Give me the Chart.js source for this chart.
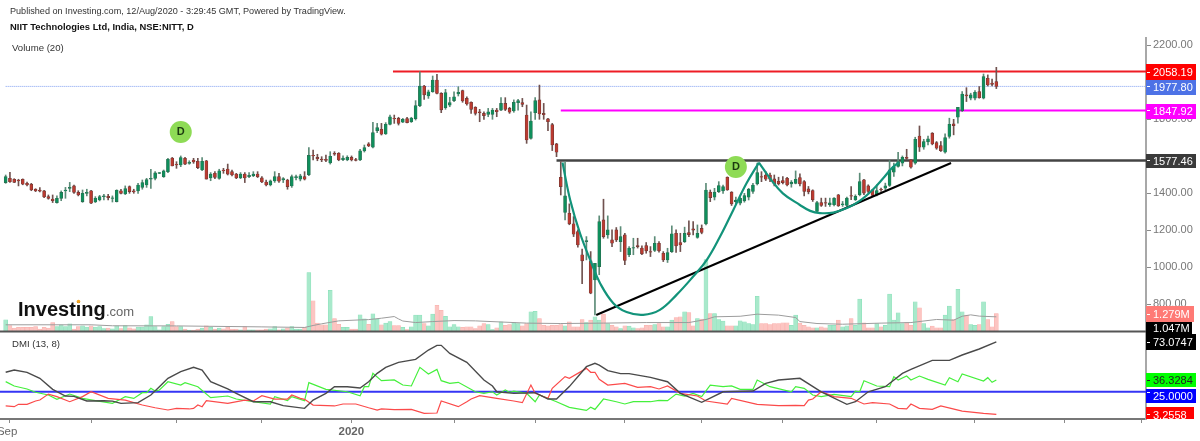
<!DOCTYPE html>
<html>
<head>
<meta charset="utf-8">
<title>NIIT Technologies daily chart</title>
<style>
  html, body { margin: 0; padding: 0; background: #fff; }
  canvas { display: block; }
</style>
<script src="https://cdn.jsdelivr.net/npm/chart.js@4/dist/chart.umd.min.js"></script>
</head>
<body>
<canvas id="chart" width="1200" height="441"></canvas>
<script>
// Daily bars, oldest first: [open, high, low, close]
const ohlc = [
[1458,1499,1454,1490],[1481,1513,1459,1463],[1476,1479,1458,1459],[1472,1476,1440,1467],[1476,1478,1446,1449],
[1454,1461,1440,1445],[1449,1454,1414,1418],[1422,1425,1409,1413],[1418,1431,1407,1411],[1413,1416,1377,1380],
[1382,1391,1368,1373],[1369,1391,1350,1360],[1350,1386,1346,1373],[1373,1413,1360,1405],[1413,1432,1373,1418],
[1427,1459,1409,1432],[1440,1445,1400,1405],[1405,1414,1386,1391],[1355,1418,1351,1400],[1400,1422,1386,1405],
[1414,1416,1344,1346],[1353,1382,1350,1373],[1364,1389,1359,1382],[1382,1395,1364,1386],[1384,1395,1364,1377],
[1373,1386,1353,1375],[1355,1419,1353,1416],[1414,1422,1396,1400],[1396,1440,1393,1425],[1436,1440,1400,1409],
[1414,1422,1400,1407],[1413,1454,1400,1445],[1432,1472,1422,1458],[1445,1481,1432,1474],[1476,1530,1427,1481],
[1481,1517,1472,1510],[1508,1513,1506,1512],[1490,1526,1486,1522],[1517,1589,1512,1584],[1591,1594,1548,1548],
[1557,1571,1535,1553],[1553,1602,1544,1593],[1589,1594,1555,1558],[1562,1576,1557,1567],[1580,1589,1562,1569],
[1573,1589,1533,1539],[1526,1593,1522,1573],[1576,1578,1477,1477],[1483,1512,1468,1504],[1508,1517,1479,1486],
[1481,1530,1476,1522],[1526,1535,1508,1522],[1531,1558,1499,1504],[1517,1526,1494,1499],[1504,1508,1479,1483],
[1483,1512,1479,1504],[1504,1512,1458,1483],[1490,1512,1485,1497],[1495,1517,1490,1504],[1504,1517,1485,1490],
[1483,1490,1458,1461],[1461,1472,1440,1445],[1445,1472,1440,1467],[1467,1517,1459,1490],[1490,1508,1459,1465],
[1472,1485,1458,1479],[1472,1476,1422,1436],[1440,1499,1432,1490],[1485,1499,1472,1490],[1476,1503,1467,1494],
[1490,1517,1472,1476],[1501,1647,1495,1605],[1605,1634,1580,1602],[1594,1611,1576,1587],[1585,1598,1571,1580],
[1584,1607,1571,1578],[1564,1625,1558,1600],[1616,1625,1605,1611],[1616,1620,1576,1580],[1582,1602,1576,1591],
[1580,1603,1576,1594],[1594,1602,1575,1580],[1582,1589,1575,1578],[1580,1638,1576,1630],[1629,1661,1623,1647],
[1667,1674,1652,1656],[1649,1784,1645,1728],[1739,1778,1728,1755],[1746,1778,1715,1719],[1721,1782,1718,1773],
[1773,1823,1769,1814],[1805,1823,1778,1802],[1805,1811,1769,1778],[1784,1805,1782,1800],[1804,1811,1780,1782],
[1787,1811,1783,1807],[1804,1901,1796,1874],[1874,2057,1868,1980],[1980,1984,1908,1932],[1926,1958,1913,1949],
[1949,2034,1946,2012],[2012,2043,1937,1940],[1940,1944,1836,1851],[1863,1962,1854,1944],[1877,1919,1868,1890],
[1901,1949,1895,1922],[1937,1976,1926,1946],[1955,1958,1892,1899],[1913,1922,1877,1883],[1892,1895,1832,1854],
[1865,1868,1823,1832],[1840,1854,1787,1836],[1832,1841,1800,1820],[1827,1859,1814,1841],[1827,1859,1800,1850],
[1850,1859,1814,1841],[1850,1917,1847,1886],[1886,1917,1847,1854],[1859,1865,1832,1838],[1845,1905,1838,1892],
[1890,1908,1850,1901],[1890,1913,1868,1881],[1823,1877,1670,1688],[1697,1841,1692,1791],[1836,1917,1800,1901],
[1905,1985,1800,1829],[1832,1886,1800,1825],[1802,1805,1739,1787],[1771,1778,1631,1661],[1667,1670,1598,1622],
[1487,1571,1391,1436],[1296,1571,1256,1386],[1292,1343,1230,1235],[1235,1274,1166,1179],[1193,1202,1109,1121],
[1068,1098,911,1035],[1139,1166,1040,1145],[1035,1085,857,860],[932,1022,743,1022],[1004,1278,960,1247],
[1256,1368,1157,1166],[1175,1278,1157,1202],[1148,1202,1112,1130],[1202,1215,1139,1148],[1139,1220,1085,1166],
[1175,1184,1014,1037],[1068,1112,1058,1104],[1104,1157,1068,1107],[1118,1157,1104,1112],[1104,1116,1068,1073],
[1118,1134,1076,1089],[1085,1112,1058,1082],[1091,1166,1085,1130],[1130,1139,1082,1089],[1076,1085,1031,1040],
[1040,1103,1026,1080],[1085,1224,1080,1181],[1184,1202,1080,1116],[1134,1184,1085,1121],[1139,1217,1134,1184],
[1188,1251,1166,1177],[1208,1247,1175,1201],[1161,1229,1157,1184],[1210,1229,1181,1188],[1235,1454,1229,1418],
[1406,1418,1355,1377],[1379,1427,1364,1406],[1409,1463,1404,1442],[1413,1445,1400,1436],[1487,1489,1416,1418],
[1406,1409,1334,1343],[1355,1379,1343,1364],[1346,1382,1337,1373],[1359,1400,1352,1388],[1379,1427,1364,1422],
[1410,1454,1400,1445],[1451,1563,1445,1512],[1491,1517,1463,1487],[1499,1517,1469,1476],[1499,1509,1463,1476],
[1478,1499,1440,1451],[1465,1487,1445,1451],[1469,1490,1451,1458],[1481,1487,1440,1445],[1451,1469,1433,1460],
[1454,1521,1451,1476],[1485,1505,1440,1451],[1464,1469,1386,1410],[1424,1437,1397,1408],[1415,1419,1356,1365],
[1302,1356,1296,1350],[1350,1374,1329,1334],[1350,1374,1329,1347],[1338,1374,1329,1348],[1338,1377,1332,1374],
[1392,1394,1329,1332],[1338,1356,1329,1343],[1334,1379,1329,1374],[1388,1437,1365,1384],[1365,1392,1361,1383],
[1392,1509,1386,1464],[1473,1476,1392,1401],[1440,1446,1401,1410],[1419,1422,1383,1388],[1392,1446,1386,1415],
[1422,1428,1410,1419],[1428,1455,1419,1440],[1442,1577,1437,1527],[1514,1563,1491,1545],[1545,1622,1541,1572],
[1563,1602,1548,1595],[1595,1638,1581,1588],[1581,1584,1536,1541],[1563,1703,1557,1692],[1710,1764,1626,1649],
[1649,1692,1638,1680],[1678,1710,1662,1694],[1725,1728,1662,1667],[1674,1680,1638,1644],[1658,1680,1626,1631],
[1622,1721,1617,1701],[1707,1806,1698,1773],[1775,1800,1716,1766],[1811,1865,1779,1865],[1847,1950,1842,1937],
[1932,1971,1896,1926],[1914,1941,1905,1932],[1914,1955,1905,1946],[1950,1977,1914,1917],[1914,2045,1910,2031],
[2022,2040,1980,1986],[1996,2018,1980,1989],[2004,2081,1966,1977.8]
];

// Traded volume per bar, in millions
const volume = [
.83,.43,.24,.29,.29,.29,.29,.36,.17,.29,
.24,.64,.36,.48,.36,.55,.17,.36,.40,.31,
.40,.31,.36,.21,.24,.19,.40,.21,.43,.26,
.19,.31,.31,.48,1.07,.36,.12,.36,.52,.71,
.36,.36,.17,.10,.10,.17,.24,.40,.29,.17,
.24,.19,.31,.17,.17,.12,.36,.12,.12,.12,
.12,.17,.19,.36,.12,.19,.24,.36,.17,.17,
.29,4.21,2.19,.60,.48,.48,2.95,.93,.52,.29,
.29,.17,.17,1.19,.90,.52,1.26,.88,.48,.60,
.71,.43,.43,.29,.14,.33,1.17,1.17,.57,.40,
1.24,1.88,1.52,1.09,.33,.50,.33,.29,.33,.33,
.21,.40,.57,.50,.14,.26,.69,.45,.50,.64,
.57,.40,.57,1.40,1.45,.93,.45,.40,.45,.45,
.50,.40,.69,.33,.33,.86,.64,.81,1.05,.81,
1.24,.57,.45,.33,.21,.40,.38,.26,.21,.26,
.45,.45,.50,.57,.33,.33,.81,1.00,1.05,1.40,
1.36,.40,.93,.88,5.14,1.29,1.29,.86,.74,.40,
.40,.40,.76,.69,.57,.50,2.52,.57,.57,.50,
.57,.57,.62,.62,.45,1.17,.60,.45,.33,.26,
.26,.33,.26,.45,.45,.81,.33,.40,.93,.45,
2.31,.62,.26,.26,.57,.33,.45,2.67,.81,1.33,
.57,.64,.45,2.12,1.69,.57,.26,.38,.26,.26,
1.17,1.81,.86,3.02,1.40,1.17,.50,.45,.50,2.12,
.86,.33,1.279
];

// Volume (20) average: [bar, millions]
const volumeAverage = [
[0,.48],[20,.48],[25,.41],[40,.40],[60,.33],[70,.29],[72,.43],[74,.55],[78,.76],[83,.83],[85,.85],[88,.95],[91,1.07],[92,.90],
[93,.75],[96,.64],[100,.71],[105,.78],[110,.76],[122,.60],[130,.57],[140,.60],[150,.64],[160,.64],[164,.86],[166,1.05],[172,1.09],[176,1.24],[181,1.17],[185,1.00],
[186,.71],[190,.57],[196,.52],[205,.60],[212,.64],[218,.86],[222,.81],[224,1.09],[226,1.19],[228,1.10],[232,1.047]
];

// DMI (13, 8) lines: [bar, value]
const adx = [
[0,43.8],[2,46],[5,43.8],[8,38],[11,27.3],[14,20.9],[16,20.6],[19,16.1],[23,16.4],[25,16],[27,13.8],[31,14.5],[34,21.9],[36,29.9],[38,38],
[41,44.4],[44,48.6],[46,46],[48,34.7],[52,27.7],[54,23.5],[58,15.4],[62,15.4],[65,11.6],[70,9],[72,17],[75,23.5],[77,29.9],[80,29.9],[83,28.6],
[85,34.7],[87,42.8],[89,48.6],[92,53.4],[96,56.3],[99,65.3],[101,69.8],[102,69.8],[104,62],[108,53.4],[112,36.4],[114,30.6],[115,25],[119,23.5],
[124,24.1],[127,18],[129,18],[132,30],[136,49.2],[138,52.5],[139,50.8],[141,45.4],[144,42.5],[146,42.5],[151,38.9],[155,34.7],[158,23.5],[163,14.8],
[168,25],[175,25.7],[178,33.1],[181,36.4],[186,38],[191,25],[197,12.9],[199,15.4],[202,25],[206,29.9],[210,42.8],[212,46.6],[217,55.3],[221,55.3],
[224,60.5],[228,66.3],[232,73.0747]
];
const plusDI = [
[0,34.8],[2,30.6],[5,27.7],[7,24.5],[10,21.9],[12,17.7],[15,22.8],[18,18.6],[21,16.4],[25,13.8],[27,18],[28,20.3],[30,18.6],[32,24.1],[33,24.1],
[34,28.3],[35,25.7],[36,26.7],[38,34.7],[41,31.5],[42,33.8],[45,29.9],[48,19.3],[52,20.9],[54,18],[58,15.4],[62,13.2],[63,20.3],[66,16.4],[67,20.3],
[70,16.4],[71,33.8],[75,27.3],[80,25],[83,21.2],[84,29.9],[85,29.9],[86,42.8],[88,35.7],[91,36.4],[93,31.5],[95,30.6],[97,48.6],[99,42.2],[101,46.6],
[102,35.7],[104,33.1],[106,34.1],[110,25],[112,23.5],[114,25],[115,21.9],[117,26.7],[118,24.5],[119,25.7],[122,23.5],[124,15.4],[125,21.9],[129,15.4],
[132,10],[136,7],[137,10],[138,8],[140,18],[143,15.4],[145,13.2],[147,15.4],[151,15.4],[153,16.7],[155,16.4],[157,22.8],[159,20.9],[161,23.5],[163,20.3],
[165,31.5],[168,29.9],[170,30.6],[172,27.3],[175,27.3],[176,36.4],[179,29.9],[184,25],[185,29.9],[187,28.3],[189,21.9],[191,20.3],[194,22.5],[198,20.3],
[199,25.7],[200,25],[201,35.7],[204,30.6],[207,29.9],[208,39.6],[209,36.4],[211,40.2],[212,36.4],[214,40.2],[216,37],[220,31.5],[221,38.6],[223,34.7],
[224,42.2],[229,35.4],[230,38.6],[231,34.1],[232,36.3284]
];
const minusDI = [
[0,11.3],[2,10.6],[3,12.9],[5,12.9],[7,16.1],[8,17],[10,22.8],[12,20.3],[15,15.4],[18,20.3],[20,25],[24,18.6],[28,17],[32,12.2],[35,9.6],[38,7.4],
[40,9],[43,8.4],[44,9],[45,12.2],[46,10.6],[47,16.4],[52,13.8],[56,17],[58,16.1],[60,21.2],[63,18],[66,18],[67,21.9],[69,18.6],[70,17.7],[72,12.2],
[77,11.3],[79,13.2],[82,13.2],[85,9.6],[87,7.4],[88,8.4],[91,7.7],[95,8],[98,4.2],[101,4.5],[102,16.1],[106,10.6],[108,15.4],[109,18],[111,21.2],
[115,18.6],[119,16.1],[121,14.5],[123,31.5],[124,23.5],[127,18.7],[128,28.3],[131,39.6],[132,38],[136,47.6],[137,43.8],[138,43.8],[139,37],[141,31.5],
[145,33.1],[148,29.3],[151,29.9],[153,27.7],[155,30.6],[158,23.5],[162,20.9],[164,16.1],[169,13.2],[170,18.6],[176,12.9],[181,11.6],[185,11.9],[187,11.6],
[188,17],[189,18],[191,25],[194,20.3],[198,18.7],[201,13.2],[203,14.5],[207,13.2],[209,9],[211,8.4],[212,13.2],[214,9],[217,8],[219,11.3],[224,6.4],
[229,4.2],[232,3.2558]
];

// Horizontal levels and hand-drawn studies on the price pane
const resistance = 2058.19;
const lastClose = 1977.80;
const midLevel = 1847.92;
const neckline = 1577.46;
const dmiThreshold = 25;
const volumeNow = 1.279;
const volumeAvgNow = 1.047;
const trendline = [[138.3,742],[221.4,1564]];
const cupCurve = [[130.4,1566],[132.2,1364],[134.5,1184],[137.2,1022],[139.2,914],[142.3,806],[145.4,758],[149.3,743],[153.2,770],[157.1,851],[161,950],[164.2,1040],[167.3,1166],[170.4,1310],[173.5,1454],[176.4,1566]];
const handleCurve = [[176.4,1566],[179,1481],[182,1400],[186,1337],[188.4,1305],[190.7,1293],[193.8,1296],[197,1320],[200,1359],[203,1418],[205.5,1481],[207.5,1535],[209.2,1568]];
const dividendMarks = [[41,1731],[171,1542]];

// Axis ticks; 1600 and 2000 give way to the level tags sitting on them
const priceTicks = [800,1000,1200,1400,1800,2200];
const timeTicks = [1,20,40,60,81,105,124,145,163,182,204,227,248,266];
const timeLabels = {1:'Sep',81:'2020'};

// Window of bars shown, and the value ranges that place each pane
const barMin = -1.33, barMax = 267.05;
const PRICE_RANGE = [180, 2239.5];
const VOLUME_RANGE = [-6.256, 20.985];
const DMI_RANGE = [-1.28, 366.5];

const UP = '#0f8f5c', DOWN = '#bb3a30';
const isUp = b => b[3] >= b[0];
const pts = a => a.map(p => ({x:p[0], y:p[1]}));
const level = (from, v) => [{x:from,y:v},{x:barMax,y:v}];

function lineSet(data, yAxisID, color, width, order, extra) {
  return Object.assign({type:'line', data, yAxisID, xAxisID:'x', borderColor:color, borderWidth:width,
    pointRadius:0, tension:0, fill:false, order}, extra||{});
}

const datasets = [
  // price-pane levels sit under the candles
  lineSet(level(90.7,resistance),'y','#ee1c25',2,20),
  lineSet(level(0,lastClose),'y','#7f9ff0',1,21,{borderDash:[1,1]}),
  lineSet(level(130,midLevel),'y','#ff00ff',2,20),
  lineSet(level(129,neckline),'y','#444444',2.5,20),
  // wicks then bodies
  {type:'bar', grouped:false, order:11, yAxisID:'y', xAxisID:'x', barThickness:1,
    data: ohlc.map((b,i)=>({x:i,y:[b[2],b[1]]})),
    backgroundColor: ohlc.map(b=>isUp(b)?'#5c8c78':'#70524f')},
  {type:'bar', grouped:false, order:10, yAxisID:'y', xAxisID:'x', barThickness:3, borderSkipped:false, borderWidth:0.6,
    data: ohlc.map((b,i)=>({x:i,y:[Math.min(b[0],b[3]),Math.max(b[0],b[3])]})),
    backgroundColor: ohlc.map(b=>isUp(b)?UP:DOWN),
    borderColor: ohlc.map(b=>isUp(b)?'#2c6a4f':'#6a3a36')},
  // volume histogram and its average
  {type:'bar', grouped:false, order:40, yAxisID:'yVol', xAxisID:'x', barThickness:4, borderWidth:0.5, borderSkipped:false,
    data: volume.map((v,i)=>({x:i,y:v})),
    backgroundColor: ohlc.map(b=>isUp(b)?'#a8e9cb':'#fcc5c2'),
    borderColor: ohlc.map(b=>isUp(b)?'#84dfb6':'#f9aeaa')},
  lineSet(pts(volumeAverage),'yVol','#9c9c9c',1,30),
  lineSet(level(barMin,0),'yVol','#555555',2,5),
  // DMI pane
  lineSet(level(barMin,dmiThreshold),'yDmi','#3535f5',2,9),
  lineSet(pts(plusDI),'yDmi','#45f03c',1.2,8),
  lineSet(pts(minusDI),'yDmi','#fb4a4a',1.2,7),
  lineSet(pts(adx),'yDmi','#4a4a4a',1.4,6),
  // studies on top of the price action
  lineSet(pts(trendline),'y','#000000',2,3),
  lineSet(pts(cupCurve),'y','#12937a',2.2,2,{tension:0.4}),
  lineSet(pts(handleCurve),'y','#12937a',2.2,2,{tension:0.4}),
  lineSet(pts(dividendMarks),'y','#88d94e',0,1,{showLine:false,pointRadius:11,pointBackgroundColor:'#8edb55',pointBorderWidth:0})
];

// Text overlays: header, logo, pane captions and the price tags on the axis
const overlay = {
  id:'overlay',
  afterDraw(chart){
    const c = chart.ctx, s = chart.scales;
    const right = chart.chartArea.right;
    c.save();
    c.textBaseline = 'alphabetic';
    c.textAlign = 'left';

    c.fillStyle = '#333';
    c.font = '9.1px "Liberation Sans", Arial, sans-serif';
    c.fillText('Published on Investing.com, 12/Aug/2020 - 3:29:45 GMT, Powered by TradingView.', 10, 14);
    c.fillStyle = '#111';
    c.font = 'bold 9.4px "Liberation Sans", Arial, sans-serif';
    c.fillText('NIIT Technologies Ltd, India, NSE:NITT, D', 10, 30);
    c.fillStyle = '#333';
    c.font = '9.6px "Liberation Sans", Arial, sans-serif';
    c.fillText('Volume (20)', 12, 51);
    c.fillText('DMI (13, 8)', 12, 347);

    // wordmark
    c.fillStyle = '#111';
    c.font = 'bold 20px "Liberation Sans", Arial, sans-serif';
    c.fillText('Investing', 18, 316);
    c.fillStyle = '#666';
    c.font = '13px "Liberation Sans", Arial, sans-serif';
    c.fillText('.com', 106, 316);
    c.fillStyle = '#f5a623';
    c.beginPath(); c.arc(78.5, 301.5, 1.8, 0, Math.PI*2); c.fill();

    // letters inside the round event markers
    const marks = chart.getDatasetMeta(datasets.length-1).data;
    c.fillStyle = '#1c3a10';
    c.font = 'bold 11px "Liberation Sans", Arial, sans-serif';
    c.textAlign = 'center';
    c.textBaseline = 'middle';
    marks.forEach(m => c.fillText('D', m.x, m.y));

    // tags on the axis
    const tag = (text, axis, value, bg, fg, top, h, w) => {
      const pix = s[axis].getPixelForValue(value);
      c.fillStyle = bg;
      c.fillRect(right, top, w, h);
      c.strokeStyle = fg;
      c.lineWidth = 1;
      c.beginPath(); c.moveTo(right+1, Math.round(pix)+.5); c.lineTo(right+4, Math.round(pix)+.5); c.stroke();
      c.fillStyle = fg;
      c.font = '11px "Liberation Sans", Arial, sans-serif';
      c.textAlign = 'left';
      c.textBaseline = 'middle';
      c.fillText(text, right+7, top+h/2+.5);
    };
    tag(volumeAvgNow.toFixed(3)+'M','yVol',volumeAvgNow,'#000','#fff',322,12,46);
    tag(volumeNow.toFixed(3)+'M','yVol',volumeNow,'#ff7a75','#fff',306,16,48);
    tag(resistance.toFixed(2),'y',resistance,'#ff0000','#fff',64,16,50);
    tag(lastClose.toFixed(2),'y',lastClose,'#4d72e6','#fff',80,15,50);
    tag(midLevel.toFixed(2),'y',midLevel,'#ff00ff','#fff',104,15,50);
    tag(neckline.toFixed(2),'y',neckline,'#3a3a3a','#fff',154,14,50);
    tag((73.0747).toFixed(4),'yDmi',73.0747,'#000','#fff',334,16,50);
    tag((36.3284).toFixed(4),'yDmi',36.3284,'#00ff00','#222',373,14,50);
    tag(dmiThreshold.toFixed(4),'yDmi',dmiThreshold,'#0000ff','#fff',389,14,50);
    // the lowest tag is cut off by the bottom edge of the pane
    c.save();
    c.beginPath(); c.rect(right, 400, 60, 19); c.clip();
    tag((3.2558).toFixed(4),'yDmi',3.2558,'#ff0000','#fff',407,16,48);
    c.restore();
    c.restore();
  }
};

const tickFont = {size:11.5, family:'"Liberation Sans", Arial, sans-serif'};

new Chart(document.getElementById('chart'), {
  type:'bar',
  data:{datasets},
  plugins:[overlay],
  options:{
    responsive:false,
    animation:false,
    devicePixelRatio:1,
    layout:{autoPadding:false, padding:{top:38,left:0,right:0,bottom:0}},
    plugins:{legend:{display:false},tooltip:{enabled:false},title:{display:false}},
    scales:{
      x:{
        type:'linear', min:barMin, max:barMax, offset:false, position:'bottom',
        grid:{display:true, offset:false, drawOnChartArea:false, drawTicks:true, tickLength:4, color:'#8a8a8a'},
        border:{color:'#777', width:2},
        afterBuildTicks(a){ a.ticks = timeTicks.map(v=>({value:v})); },
        afterFit(a){ a.height = 22; a.paddingLeft = 0; a.paddingRight = 0; },
        ticks:{
          // left-aligned labels, pulled back by an offset, so the first one may hang off the canvas edge
          autoSkip:false, maxRotation:0, padding:2, color:'#666', align:'start', labelOffset:-13,
          font:ctx => Object.assign({}, tickFont, {weight: ctx.tick && timeLabels[ctx.tick.value]==='2020' ? 'bold' : 'normal'}),
          callback:v => timeLabels[v] || ''
        }
      },
      y:{
        type:'linear', position:'right', min:PRICE_RANGE[0], max:PRICE_RANGE[1],
        grid:{display:true, drawOnChartArea:false, drawTicks:true, tickLength:5, color:'#8a8a8a'},
        border:{color:'#a8a8a8', width:2},
        afterBuildTicks(a){ a.ticks = priceTicks.map(v=>({value:v})); },
        afterFit(a){ a.width = 54; a.paddingTop = 0; a.paddingBottom = 0; },
        ticks:{padding:2, color:'#777', font:{size:11, family:'"Liberation Sans", Arial, sans-serif'}, callback:v=>v.toFixed(2)}
      },
      yVol:{type:'linear', display:false, position:'right', min:VOLUME_RANGE[0], max:VOLUME_RANGE[1]},
      yDmi:{type:'linear', display:false, position:'right', min:DMI_RANGE[0], max:DMI_RANGE[1]}
    }
  }
});
</script>
</body>
</html>
